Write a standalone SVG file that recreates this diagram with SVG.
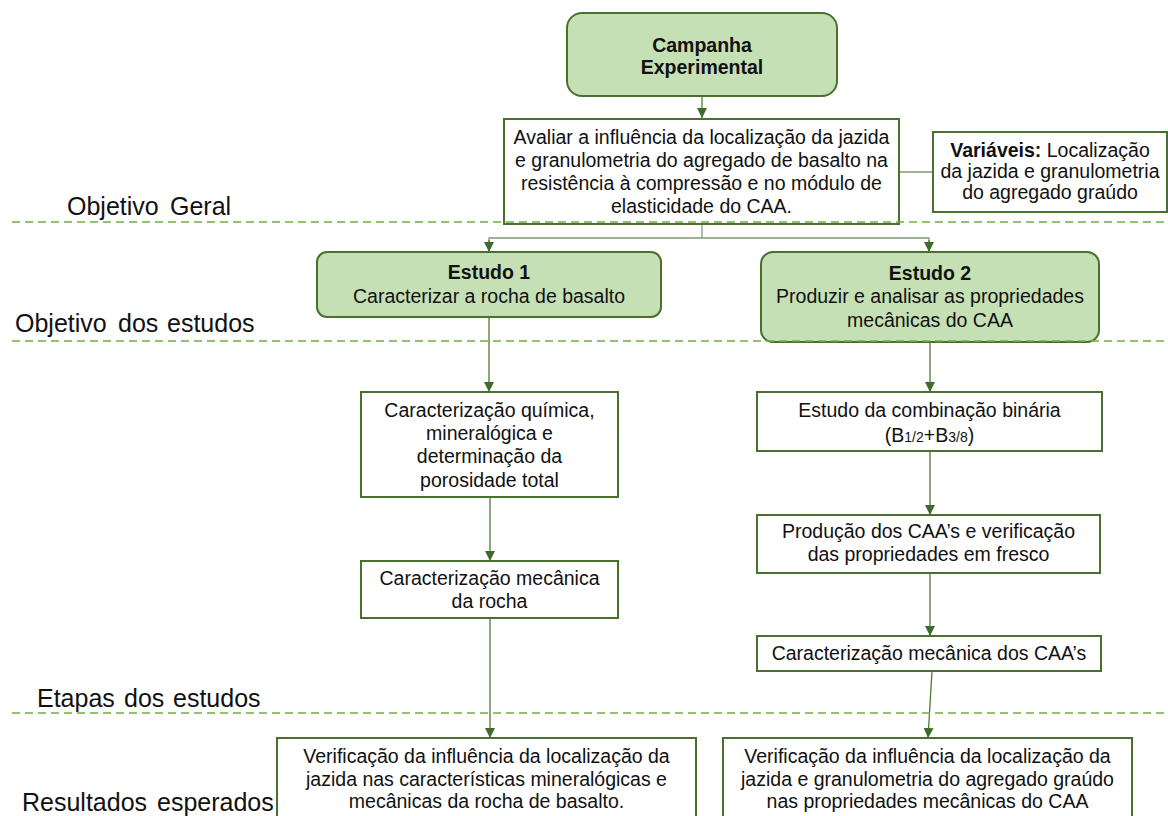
<svg xmlns="http://www.w3.org/2000/svg" width="1168" height="816" viewBox="0 0 1168 816">
<style>
  text { font-family: "Liberation Sans", Arial, sans-serif; fill: #111; }
  .t { font-size: 19.5px; text-anchor: middle; }
  .b { font-weight: bold; }
  .lbl { font-size: 25px; }
  .box { fill: #ffffff; stroke: #4a7030; stroke-width: 2; }
  .gbox { fill: #c5e0b4; stroke: #4a7030; stroke-width: 2; }
  .con { fill: none; stroke: #4f7a34; stroke-width: 1.3; }
  .con2 { fill: none; stroke: #7f9a70; stroke-width: 1.3; }
  .dash { fill: none; stroke: #70ad47; stroke-width: 1.6; stroke-dasharray: 8 5; }
</style>
<defs>
  <marker id="arr" markerUnits="userSpaceOnUse" markerWidth="10" markerHeight="10" viewBox="0 0 10 10" refX="10" refY="5" orient="auto">
    <path d="M0,0 L10,5 L0,10 z" fill="#3f6b2a"/>
  </marker>
</defs>
<rect width="1168" height="816" fill="#ffffff"/>

<g id="labels">
  <text class="lbl" y="215"><tspan x="67">Objetivo</tspan><tspan x="170">Geral</tspan></text>
  <text class="lbl" y="332"><tspan x="15">Objetivo</tspan><tspan x="118">dos</tspan><tspan x="167">estudos</tspan></text>
  <text class="lbl" y="707"><tspan x="37">Etapas</tspan><tspan x="124">dos</tspan><tspan x="173">estudos</tspan></text>
  <text class="lbl" y="811"><tspan x="22">Resultados</tspan><tspan x="157">esperados</tspan></text>
</g>

<g id="connectors">
  <line class="con" x1="702" y1="96" x2="702" y2="118" marker-end="url(#arr)"/>
  <line class="con2" x1="899" y1="172" x2="933" y2="172"/>
  <polyline class="con2" points="702,224 702,238"/>
  <polyline class="con2" points="489,252 489,238 929,238 929,252"/>
  <line class="con" x1="489" y1="240" x2="489" y2="252" marker-end="url(#arr)"/>
  <line class="con" x1="929" y1="240" x2="929" y2="252" marker-end="url(#arr)"/>
  <line class="con" x1="489" y1="317" x2="489" y2="392" marker-end="url(#arr)"/>
  <line class="con" x1="490" y1="497" x2="490" y2="561" marker-end="url(#arr)"/>
  <line class="con" x1="490" y1="618" x2="490" y2="738" marker-end="url(#arr)"/>
  <line class="con" x1="930" y1="342" x2="930" y2="392" marker-end="url(#arr)"/>
  <line class="con" x1="930" y1="451" x2="930" y2="515" marker-end="url(#arr)"/>
  <line class="con" x1="930" y1="573" x2="930" y2="636" marker-end="url(#arr)"/>
  <line class="con" x1="932" y1="671" x2="928" y2="738" marker-end="url(#arr)"/>
</g>

<g id="campanha">
  <rect class="gbox" x="567" y="13" width="270" height="83" rx="15"/>
  <text class="t b" x="702" y="52" font-size="18.5">Campanha</text>
  <text class="t b" x="702" y="74" font-size="18.5">Experimental</text>
</g>

<g id="objetivo-geral">
  <rect class="box" x="504" y="119" width="395" height="105"/>
  <text class="t" x="701.5" y="144">Avaliar a influência da localização da jazida</text>
  <text class="t" x="701.5" y="167">e granulometria do agregado de basalto na</text>
  <text class="t" x="701.5" y="190">resistência à compressão e no módulo de</text>
  <text class="t" x="701.5" y="213">elasticidade do CAA.</text>
</g>

<g id="variaveis">
  <rect class="box" x="933" y="132" width="234" height="80"/>
  <text class="t" x="1050" y="157" font-size="19"><tspan class="b">Variáveis:</tspan> Localização</text>
  <text class="t" x="1050" y="178" font-size="19">da jazida e granulometria</text>
  <text class="t" x="1050" y="199" font-size="19">do agregado graúdo</text>
</g>

<g id="estudo1">
  <rect class="gbox" x="317" y="252" width="344" height="65" rx="10"/>
  <text class="t b" x="489" y="279">Estudo 1</text>
  <text class="t" x="489" y="303">Caracterizar a rocha de basalto</text>
</g>

<g id="estudo2">
  <rect class="gbox" x="761" y="252" width="338" height="90" rx="12"/>
  <text class="t b" x="930" y="280">Estudo 2</text>
  <text class="t" x="930" y="303">Produzir e analisar as propriedades</text>
  <text class="t" x="930" y="327">mecânicas do CAA</text>
</g>

<g id="dashed-lines">
  <line class="dash" x1="12" y1="222" x2="1168" y2="222"/>
  <line class="dash" x1="12" y1="341" x2="1168" y2="341"/>
  <line class="dash" x1="12" y1="713" x2="1168" y2="713"/>
</g>

<g id="caract-quimica">
  <rect class="box" x="361" y="392" width="257" height="105"/>
  <text class="t" x="489.5" y="417">Caracterização química,</text>
  <text class="t" x="489.5" y="440">mineralógica e</text>
  <text class="t" x="489.5" y="463">determinação da</text>
  <text class="t" x="489.5" y="487">porosidade total</text>
</g>

<g id="caract-mecanica-rocha">
  <rect class="box" x="361" y="561" width="257" height="57"/>
  <text class="t" x="489.5" y="585">Caracterização mecânica</text>
  <text class="t" x="489.5" y="608">da rocha</text>
</g>

<g id="combinacao">
  <rect class="box" x="757" y="392" width="345" height="59"/>
  <text class="t" x="929.5" y="417">Estudo da combinação binária</text>
  <text class="t" x="929.5" y="442">(B<tspan font-size="14">1/2</tspan>+B<tspan font-size="14">3/8</tspan>)</text>
</g>

<g id="producao">
  <rect class="box" x="757" y="515" width="343" height="58"/>
  <text class="t" x="928.5" y="538">Produção dos CAA’s e verificação</text>
  <text class="t" x="928.5" y="561">das propriedades em fresco</text>
</g>

<g id="caract-mecanica-caa">
  <rect class="box" x="757" y="636" width="344" height="35"/>
  <text class="t" x="929" y="660">Caracterização mecânica dos CAA’s</text>
</g>

<g id="resultado1">
  <rect class="box" x="277" y="738" width="419" height="100"/>
  <text class="t" x="486.5" y="763" font-size="20.5">Verificação da influência da localização da</text>
  <text class="t" x="486.5" y="786" font-size="20.5">jazida nas características mineralógicas e</text>
  <text class="t" x="486.5" y="808" font-size="20.5">mecânicas da rocha de basalto.</text>
</g>

<g id="resultado2">
  <rect class="box" x="723" y="738" width="409" height="100"/>
  <text class="t" x="927.5" y="763">Verificação da influência da localização da</text>
  <text class="t" x="927.5" y="786">jazida e granulometria do agregado graúdo</text>
  <text class="t" x="927.5" y="808">nas propriedades mecânicas do CAA</text>
</g>
</svg>
